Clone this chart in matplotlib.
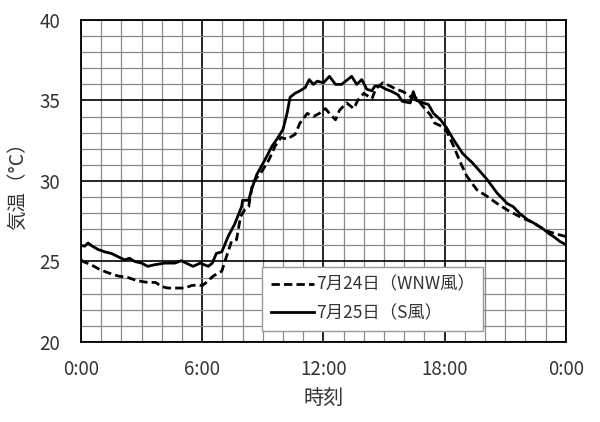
import matplotlib
matplotlib.use("Agg")
import matplotlib.pyplot as plt
from matplotlib.ticker import MultipleLocator

plt.rcParams['font.family'] = ['Noto Sans CJK JP', 'DejaVu Sans']

# 7月25日 (S風) - solid
t_25 = [0, 0.18, 0.35, 0.5, 0.84, 1.17, 1.5, 1.83, 2.16, 2.4, 2.66, 3.0, 3.3, 3.65, 4.15, 4.64,
        4.97, 5.2, 5.55, 5.9, 6.1, 6.3, 6.5, 6.7, 6.97, 7.3, 7.6, 7.95, 8.0, 8.3, 8.45, 8.7, 9.1,
        9.45, 9.7, 10.0, 10.2, 10.35, 10.6, 10.84, 11.1, 11.3, 11.5, 11.7, 12.0, 12.3, 12.6, 12.9,
        13.1, 13.4, 13.65, 13.9, 14.15, 14.4, 14.55, 14.8, 15.1, 15.4, 15.7, 15.9, 16.1, 16.3,
        16.45, 16.6, 16.95, 17.2, 17.45, 17.8, 18.1, 18.45, 18.9, 19.4, 19.75, 20.1, 20.6, 21.1,
        21.4, 21.7, 22.1, 22.4, 22.9, 23.2, 23.4, 23.7, 24.0]
v_25 = [26.0, 25.95, 26.15, 26.0, 25.75, 25.6, 25.5, 25.3, 25.1, 25.2, 25.0, 24.9, 24.7, 24.8,
        24.9, 24.9, 25.05, 24.9, 24.7, 24.9, 24.8, 24.7, 24.9, 25.5, 25.6, 26.6, 27.3, 28.4, 28.8,
        28.8, 29.5, 30.4, 31.3, 32.15, 32.6, 33.2, 34.2, 35.2, 35.45, 35.6, 35.8, 36.3, 36.0, 36.2,
        36.1, 36.5, 36.0, 36.0, 36.2, 36.5, 36.0, 36.3, 35.7, 35.6, 35.9, 35.9, 35.7, 35.55, 35.35,
        34.95, 34.9, 34.85, 35.55, 35.0, 34.85, 34.75, 34.2, 33.8, 33.3, 32.55, 31.7, 31.1, 30.6,
        30.1, 29.25, 28.6, 28.4, 28.0, 27.6, 27.4, 27.0, 26.7, 26.55, 26.25, 26.05]

# 7月24日 (WNW風) - dashed
t_24 = [0, 0.1, 0.5, 0.93, 1.34, 1.83, 2.33, 2.8, 3.3, 3.7, 3.97, 4.3, 4.8, 5.13, 5.46, 5.8, 6.0,
        6.2, 6.55, 6.97, 7.2, 7.45, 7.7, 7.9, 8.1, 8.3, 8.5, 8.9, 9.3, 9.6, 9.9, 10.2, 10.6, 10.84,
        11.2, 11.5, 11.8, 12.1, 12.3, 12.6, 12.8, 13.15, 13.5, 13.7, 14.0, 14.4, 14.6, 14.95, 15.3,
        15.6, 15.95, 16.3, 16.6, 16.95, 17.3, 17.5, 17.85, 18.1, 18.45, 18.8, 19.1, 19.6, 20.1,
        20.6, 21.1, 21.7, 22.4, 23.05, 23.55, 24.0]
v_24 = [25.1, 25.0, 24.8, 24.5, 24.3, 24.1, 24.0, 23.8, 23.7, 23.7, 23.45, 23.35, 23.35, 23.35,
        23.5, 23.55, 23.5, 23.7, 24.1, 24.4, 25.3, 26.25, 26.35, 27.8, 28.2, 28.4, 29.9, 30.5, 31.3,
        32.15, 32.7, 32.6, 32.9, 33.6, 34.2, 34.0, 34.2, 34.5, 34.2, 33.8, 34.4, 34.85, 34.5, 35.0,
        35.45, 35.1, 35.75, 36.1, 35.9, 35.7, 35.55, 35.25, 35.15, 34.6, 34.1, 33.6, 33.4, 33.1,
        32.15, 31.1, 30.3, 29.45, 29.05, 28.6, 28.2, 27.8, 27.4, 26.9, 26.7, 26.55]

x_ticks = [0, 6, 12, 18, 24]
x_ticklabels = ["0:00", "6:00", "12:00", "18:00", "0:00"]
y_ticks = [20, 25, 30, 35, 40]
label_24 = "7月24日（WNW風）"
label_25 = "7月25日（S風）"
x_label = "時刻"
y_label = "気温（°C）"

txt = '#333333'
fig = plt.figure(figsize=(6, 4.22), dpi=100)
ax = fig.add_axes([0.135, 0.1896, 0.808, 0.763])

ax.set_xlim(0, 24)
ax.set_ylim(20, 40)
ax.xaxis.set_minor_locator(MultipleLocator(1))
ax.yaxis.set_minor_locator(MultipleLocator(1))
ax.set_xticks(x_ticks)
ax.set_xticklabels(x_ticklabels)
ax.set_yticks(y_ticks)
ax.grid(which='minor', color='#8a8a8a', linewidth=0.9)
ax.grid(which='major', color='black', linewidth=1.2)
ax.set_axisbelow(True)
ax.tick_params(which='both', length=0)
ax.tick_params(axis='x', pad=12, labelsize=13.5, labelcolor=txt)
ax.tick_params(axis='y', pad=15, labelsize=13.5, labelcolor=txt)
for s in ax.spines.values():
    s.set_linewidth(1.3)
    s.set_color('black')

ax.plot(t_24, v_24, color='black', linewidth=2.0, linestyle=(0, (3, 1.5)), label=label_24)
ax.plot(t_25, v_25, color='black', linewidth=2.0, label=label_25)

ax.set_xlabel(x_label, fontsize=14.5, color=txt, labelpad=6)
ax.set_ylabel(y_label, fontsize=14, color=txt, labelpad=8)

leg = ax.legend(loc='upper left', bbox_to_anchor=(0.373, 0.233), fontsize=12.5,
                frameon=True, fancybox=False, edgecolor='#999999', framealpha=1,
                handlelength=2.5, handletextpad=0.1, labelspacing=0.6,
                borderpad=0.5, borderaxespad=0)
for t in leg.get_texts():
    t.set_color(txt)
leg.get_frame().set_linewidth(1.0)

fig.savefig("out.png", dpi=100)
